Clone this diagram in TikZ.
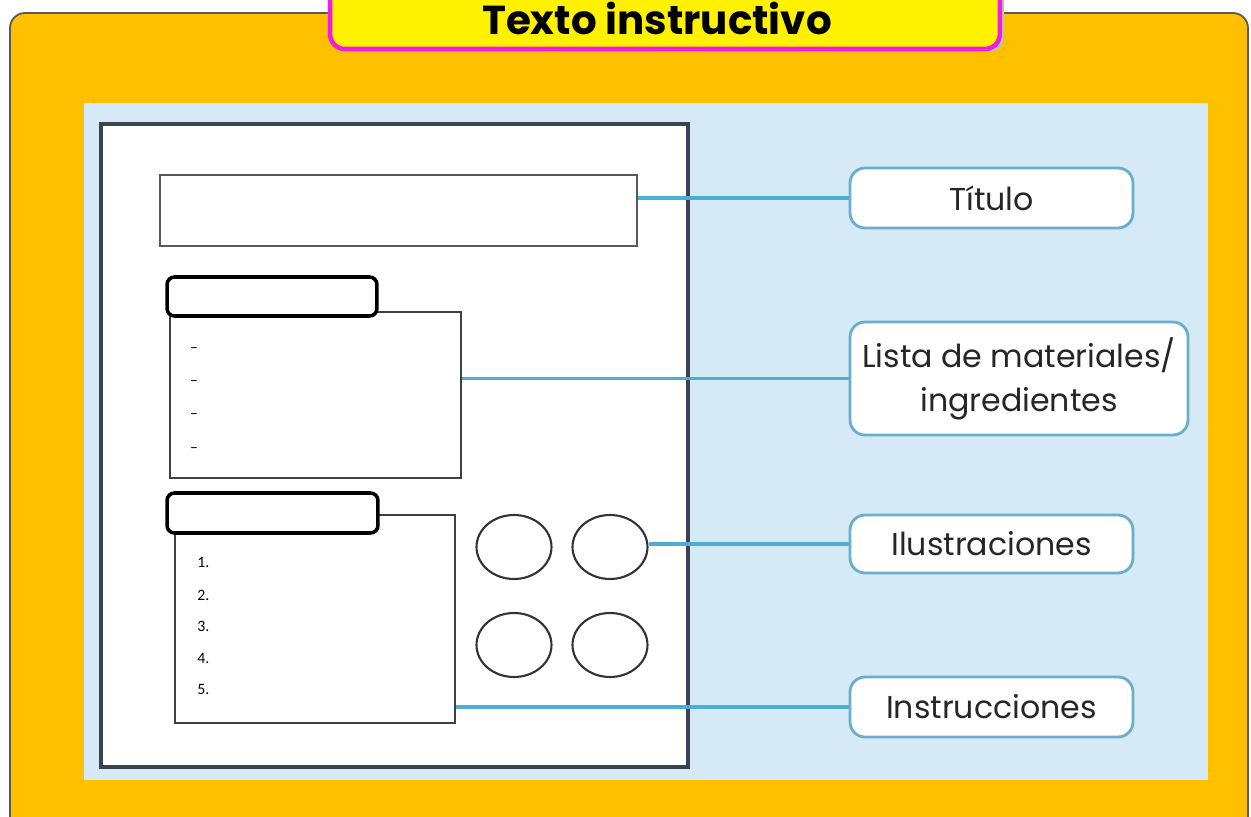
\documentclass[tikz,border=0pt]{standalone}
\usepackage{fontspec}
\setmainfont{Poppins}
\newfontfamily\calib{Carlito}
\usepackage{xcolor}
\usepackage{tikz}
\usetikzlibrary{calc}
\usetikzlibrary{positioning}
\usetikzlibrary{shapes.geometric}

\definecolor{marco}{HTML}{FFC000}
\definecolor{fondo}{HTML}{D5E9F7}
\definecolor{linea}{HTML}{4BAFD5}
\definecolor{borde}{HTML}{6AAECB}
\definecolor{rosa}{HTML}{F21BE0}
\definecolor{pagina}{HTML}{3B4252}

\tikzset{
  etiqueta/.style={draw=borde, line width=1.6pt, fill=white, rounded corners=0.3cm,
    minimum width=5.66cm, minimum height=1.2cm, align=center, text=black!85,
    font=\fontsize{18}{25}\selectfont},
  caja/.style={draw=black!75, line width=1.3pt, fill=white, inner sep=0pt},
  pestana/.style={draw=black, line width=2pt, fill=white, rounded corners=0.15cm,
    minimum width=4.2cm, minimum height=0.78cm, inner sep=0pt},
  dibujo/.style={draw=black!80, line width=1.2pt, ellipse, minimum width=1.5cm,
    minimum height=1.28cm, inner sep=0pt},
  conector/.style={draw=linea, line width=1.8pt}
}

\begin{document}
\begin{tikzpicture}[x=0.02cm,y=-0.02cm]
\useasboundingbox (0,0) rectangle (1251,817);
\clip (0,0) rectangle (1251,817);
\fill[white] (0,0) rectangle (1251,817);
\draw[fill=marco, draw=black!65, line width=1pt, rounded corners=0.3cm] (10,13) rectangle (1248,860);
\fill[fondo] (84,103) rectangle (1208,780);
\draw[fill=white, draw=pagina, line width=1.8pt] (101,124) rectangle (688,767);

% encabezado
\fill[black!25, rounded corners=0.3cm] (334,-20) rectangle (1004,52);
\node[draw=rosa, line width=2.6pt, fill=yellow, rounded corners=0.3cm, minimum width=13.4cm,
  minimum height=1.4cm] (cabecera) at (665,14) {};
\node[anchor=base, font=\bfseries\fontsize{23}{23}\selectfont] (texto) at (657,35) {Texto instructivo};

% hoja
\node[caja, draw=black!65, minimum width=9.54cm, minimum height=1.42cm] (titulo) at (398.5,210.5) {};
\node[caja, minimum width=5.82cm, minimum height=3.32cm] (lista) at (315.5,395) {};
\node[pestana] (tablista) at (272,296.5) {};
\node[caja, minimum width=5.6cm, minimum height=4.16cm] (pasos) at (315,619) {};
\node[pestana, minimum width=4.22cm, minimum height=0.8cm] (tabpasos) at (272.5,513) {};
\foreach \i/\y in {1/350,2/383,3/416,4/450}
    \node[font=\calib\fontsize{9}{9}\selectfont] (guion\i) at (194,\y) {–};
\foreach \n/\y in {1/562,2/595,3/626,4/658,5/689}
    \node[anchor=west, inner sep=0pt, font=\calib\fontsize{9}{9}\selectfont] (num\n) at (197,\y) {\n.};
\node[dibujo] (dib1) at (514,547) {};
\node[dibujo] (dib2) at (610,547) {};
\node[dibujo] (dib3) at (514,645) {};
\node[dibujo] (dib4) at (610,645) {};

% etiquetas
\node[etiqueta] (etitulo) at (991.5,198) {Título};
\node[etiqueta, minimum width=6.76cm, minimum height=2.26cm] (elista) at (1019,378.5) {Lista de materiales/\\ingredientes};
\node[etiqueta, minimum height=1.16cm] (eilus) at (991.5,544) {Ilustraciones};
\node[etiqueta] (einstr) at (991.5,707) {Instrucciones};

\draw[conector] (titulo.east |- etitulo.west) -- (etitulo.west);
\draw[conector] (lista.east |- elista.west) -- (elista.west);
\draw[conector] (dib2.east |- eilus.west) -- (eilus.west);
\draw[conector] (pasos.east |- einstr.west) -- (einstr.west);
\end{tikzpicture}
\end{document}
